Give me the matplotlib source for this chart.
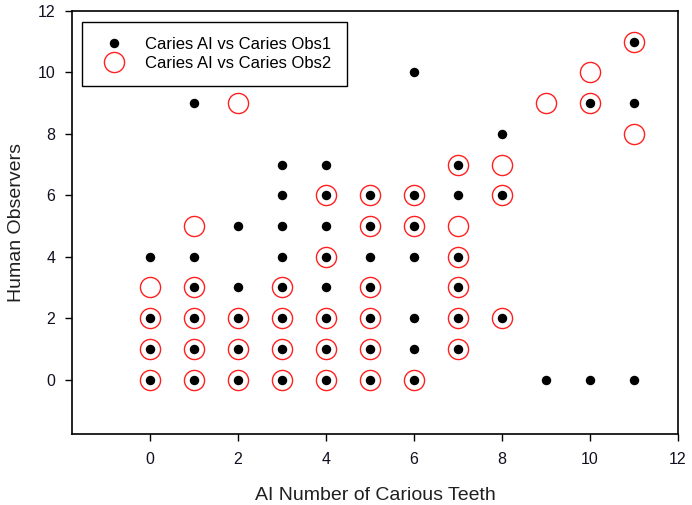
import numpy as np
import matplotlib
matplotlib.use("Agg")
import matplotlib.pyplot as plt

plt.rcParams['font.family'] = ['Liberation Sans', 'DejaVu Sans']

# Caries AI vs Caries Obs1 (black dots)
obs1_x = [0, 0, 0, 0,
          1, 1, 1, 1, 1, 1,
          2, 2, 2, 2, 2,
          3, 3, 3, 3, 3, 3, 3, 3,
          4, 4, 4, 4, 4, 4, 4, 4,
          5, 5, 5, 5, 5, 5, 5,
          6, 6, 6, 6, 6, 6, 6,
          7, 7, 7, 7, 7, 7,
          8, 8, 8,
          9,
          10, 10,
          11, 11, 11]
obs1_y = [0, 1, 2, 4,
          0, 1, 2, 3, 4, 9,
          0, 1, 2, 3, 5,
          0, 1, 2, 3, 4, 5, 6, 7,
          0, 1, 2, 3, 4, 5, 6, 7,
          0, 1, 2, 3, 4, 5, 6,
          0, 1, 2, 4, 5, 6, 10,
          1, 2, 3, 4, 6, 7,
          2, 6, 8,
          0,
          0, 9,
          0, 9, 11]

# Caries AI vs Caries Obs2 (red open circles)
obs2_x = [0, 0, 0, 0,
          1, 1, 1, 1, 1,
          2, 2, 2, 2,
          3, 3, 3, 3,
          4, 4, 4, 4, 4,
          5, 5, 5, 5, 5, 5,
          6, 6, 6,
          7, 7, 7, 7, 7, 7,
          8, 8, 8,
          9,
          10, 10,
          11, 11]
obs2_y = [0, 1, 2, 3,
          0, 1, 2, 3, 5,
          0, 1, 2, 9,
          0, 1, 2, 3,
          0, 1, 2, 4, 6,
          0, 1, 2, 3, 5, 6,
          0, 5, 6,
          1, 2, 3, 4, 5, 7,
          2, 6, 7,
          9,
          9, 10,
          8, 11]

fig = plt.figure(figsize=(6.92, 5.05), dpi=100)
ax = fig.add_axes([72/692, 71/505, 606/692, 423/505])

ax.plot(obs1_x, obs1_y, linestyle='none', marker='o', markersize=5.8,
        color='black', label='Caries AI vs Caries Obs1')
ax.plot(obs2_x, obs2_y, linestyle='none', marker='o', markersize=14.5,
        markerfacecolor='none', markeredgecolor='#ff2020', markeredgewidth=1.0,
        label='Caries AI vs Caries Obs2')

ax.set_xlim(-1.76, 12)
ax.set_ylim(-1.77, 12)
ax.set_xticks(np.arange(0, 13, 2))
ax.set_yticks(np.arange(0, 13, 2))
ax.tick_params(direction='out', length=5, width=1, labelsize=11.5,
               labelcolor='#101020')
ax.tick_params(axis='x', pad=8)
ax.tick_params(axis='y', pad=7)
for s in ax.spines.values():
    s.set_linewidth(1.2)

ax.set_xlabel('AI Number of Carious Teeth', fontsize=14, color='#202020', labelpad=14)
ax.set_ylabel('Human Observers', fontsize=14, color='#202020', labelpad=9)

leg = ax.legend(loc='upper left', bbox_to_anchor=(0.0165, 0.974), borderaxespad=0,
                fancybox=False, edgecolor='black', fontsize=12, framealpha=1,
                handletextpad=0.9, borderpad=0.9, labelspacing=0.25)
leg.get_frame().set_linewidth(1.0)

fig.savefig('out.png', dpi=100)
